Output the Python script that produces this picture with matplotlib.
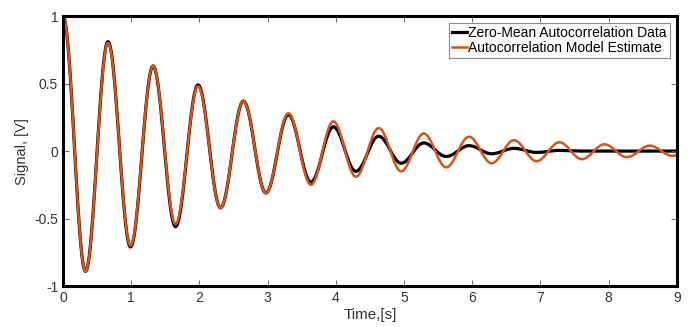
import matplotlib
matplotlib.use("Agg")
import matplotlib.pyplot as plt
from matplotlib.path import Path
from matplotlib.patches import PathPatch
from matplotlib.lines import Line2D

plt.rcParams['font.family'] = ['Liberation Sans', 'DejaVu Sans']

# extrema of both curves (time in s, signal in V)
ext_time = [0, 0.33, 0.66, 0.99, 1.32, 1.65, 1.98, 2.31, 2.645, 2.975,
            3.305, 3.635, 3.965, 4.295, 4.63, 4.96, 5.29, 5.62, 5.955,
            6.285, 6.615, 6.945, 7.28, 7.61, 7.94, 8.27, 8.605, 8.935, 9.265]
data_ext = [1, -0.89, 0.81, -0.71, 0.63, -0.56, 0.49, -0.42, 0.37, -0.31,
            0.27, -0.23, 0.18, -0.15, 0.11, -0.09, 0.06, -0.04, 0.04,
            -0.02, 0.02, -0.01, 0.005, 0, 0, 0, 0, 0, 0]
model_ext = [1, -0.89, 0.80, -0.70, 0.63, -0.54, 0.48, -0.42, 0.37, -0.31,
             0.28, -0.25, 0.22, -0.19, 0.17, -0.15, 0.13, -0.12, 0.106,
             -0.09, 0.08, -0.075, 0.065, -0.06, 0.05, -0.045, 0.04, -0.035, 0.03]

labels = ['Zero-Mean Autocorrelation Data', 'Autocorrelation Model Estimate']
colors = ['black', '#D95319']
widths = [2.3, 1.8]

xticks = list(range(0, 10))
yticks = [-1, -0.5, 0, 0.5, 1]
yticklabels = ['-1', '-0.5', '0', '0.5', '1']


def smooth_path(t, v):
    # cubic bezier between extrema, flat tangents at each extremum
    k = 0.364
    verts = [(t[0], v[0])]
    codes = [Path.MOVETO]
    for i in range(len(t) - 1):
        dt = t[i + 1] - t[i]
        verts += [(t[i] + k * dt, v[i]), (t[i + 1] - k * dt, v[i + 1]), (t[i + 1], v[i + 1])]
        codes += [Path.CURVE4] * 3
    return Path(verts, codes)


fig = plt.figure(figsize=(6.88, 3.27), dpi=100)
ax = fig.add_axes([0.0916, 0.125, 0.892, 0.826])

for vals, c, w in zip([data_ext, model_ext], colors, widths):
    ax.add_patch(PathPatch(smooth_path(ext_time, vals), fill=False,
                           edgecolor=c, linewidth=w, capstyle='round',
                           joinstyle='round'))

ax.set_xlim(0, 9)
ax.set_ylim(-1, 1)
ax.set_xticks(xticks)
ax.set_yticks(yticks)
ax.set_yticklabels(yticklabels)
ax.tick_params(direction='in', top=True, right=True, length=4, width=0.6,
               labelsize=10, labelcolor='#333333', color='#555555')
for s in ax.spines.values():
    s.set_linewidth(2.2)
ax.set_xlabel('Time,[s]', fontsize=11, color='#333333', labelpad=2)
ax.set_ylabel('Signal, [V]', fontsize=10.5, color='#333333', labelpad=4)

handles = [Line2D([], [], color=c, linewidth=w) for c, w in zip(colors, widths)]
leg = ax.legend(handles, labels, loc='upper right', fontsize=10,
                handlelength=1.1, handletextpad=0.1, borderpad=0.2,
                labelspacing=0.1, fancybox=False, framealpha=1,
                borderaxespad=0.5)
leg.get_frame().set_edgecolor('#888888')
leg.get_frame().set_linewidth(0.8)

fig.savefig('out.png', dpi=100)
